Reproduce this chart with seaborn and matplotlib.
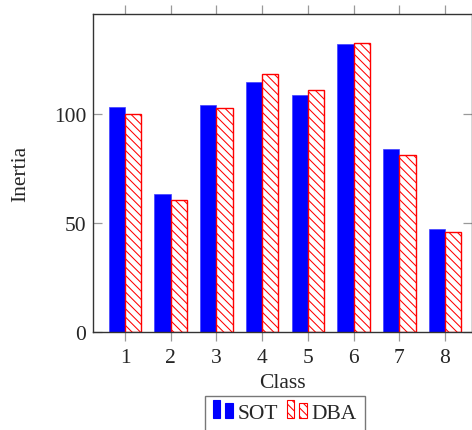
import numpy as np
import pandas as pd
import matplotlib
matplotlib.use("Agg")
import matplotlib.pyplot as plt
import matplotlib.patches as mpatches
from matplotlib.legend_handler import HandlerBase
import seaborn as sns

classes = ["1", "2", "3", "4", "5", "6", "7", "8"]
sot = [103.2, 63.5, 104.0, 114.7, 109.0, 132.4, 84.0, 47.5]
dba = [100.3, 60.6, 103.0, 118.4, 111.0, 132.7, 81.3, 45.7]
methods = ["SOT", "DBA"]
yticks = [0, 50, 100]

df = pd.DataFrame({
    "Class": classes * 2,
    "Inertia": sot + dba,
    "Method": [methods[0]] * len(classes) + [methods[1]] * len(classes),
})

sns.set_style("white")
plt.rcParams["font.family"] = ["Liberation Serif", "DejaVu Serif"]
plt.rcParams["hatch.linewidth"] = 0.75
plt.rcParams["hatch.color"] = "#ff2020"

FS = 15.5

fig = plt.figure(figsize=(4.72, 4.31), dpi=100)
ax = fig.add_axes([93 / 472, 1 - 333 / 431, (471.5 - 93) / 472, (333 - 15) / 431])

sns.barplot(data=df, x="Class", y="Inertia", hue="Method",
            palette={"SOT": "#0000ff", "DBA": "#ffffff"},
            width=0.714, saturation=1, legend=False, ax=ax)

n = len(classes)
for i, p in enumerate(ax.patches):
    if i < n:
        p.set_facecolor("#0000ff")
        p.set_edgecolor("#4040ff")
        p.set_linewidth(0.5)
    else:
        p.set_facecolor("white")
        p.set_edgecolor("red")
        p.set_hatch("\\\\\\\\")
        p.set_linewidth(1.0)

ax.set_xlim(-0.70, 7.58)
ax.set_ylim(0, 146)
ax.set_yticks(yticks)
ax.set_yticklabels([str(v) for v in yticks])

for s in ax.spines.values():
    s.set_color("#333333")
    s.set_linewidth(1.0)
    s.set_visible(True)

ax.tick_params(axis="x", direction="out", length=6.5, width=0.9, color="#999999",
               top=True, bottom=True, labelsize=FS, pad=5)
ax.tick_params(axis="y", direction="in", length=6.5, width=0.9, color="#999999",
               left=True, right=True, labelsize=FS, pad=5)

ax.set_xlabel("Class", fontsize=FS, labelpad=4)
ax.set_ylabel("Inertia", fontsize=FS, labelpad=17)


class BarsHandler(HandlerBase):
    def __init__(self, face, edge, hatch=None):
        super().__init__()
        self.face, self.edge, self.hatch = face, edge, hatch

    def create_artists(self, legend, orig_handle, xdescent, ydescent, width, height, fontsize, trans):
        bw = width * 0.37
        arts = []
        for x0, h in [(0, height * 1.2), (width * 0.65, height * 0.98)]:
            r = mpatches.Rectangle((x0 - xdescent, -ydescent), bw, h,
                                   facecolor=self.face, edgecolor=self.edge,
                                   hatch=self.hatch, linewidth=0.8, transform=trans)
            arts.append(r)
        return arts


h1 = mpatches.Patch(label="SOT")
h2 = mpatches.Patch(label="DBA")
leg = ax.legend([h1, h2], methods, ncol=2, loc="upper center",
                bbox_to_anchor=(0.507, -0.200), fontsize=FS,
                handler_map={h1: BarsHandler("#0000ff", "#0000ff"),
                             h2: BarsHandler("white", "red", "\\\\\\\\")},
                frameon=True, fancybox=False, handlelength=0.9, handletextpad=0.26,
                columnspacing=0.4, borderpad=0.35, borderaxespad=0)
leg.get_frame().set_edgecolor("#555555")
leg.get_frame().set_linewidth(1.0)

fig.savefig("out.png", dpi=100)
